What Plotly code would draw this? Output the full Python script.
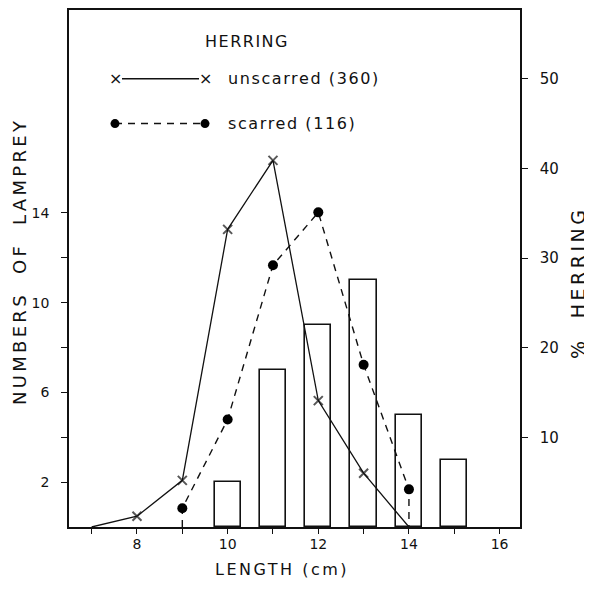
import plotly.graph_objects as go

# ---- data ----
bar_lengths = [10, 11, 12, 13, 14, 15]
lamprey_counts = [2, 7, 9, 11, 5, 3]

unscarred_lengths = [7, 8, 9, 10, 11, 12, 13, 14]
unscarred_pct = [0, 1.2, 5.2, 33.2, 40.9, 14.1, 6.0, 0]
unscarred_marker = [0, 9, 9, 9, 9, 9, 9, 0]

scarred_lengths = [9, 9, 10, 11, 12, 13, 14, 14]
scarred_pct = [0, 2.1, 12.0, 29.2, 35.1, 18.1, 4.2, 0]
scarred_marker = [0, 10, 10, 10, 10, 10, 10, 0]

x_tickvals = list(range(7, 17))
x_ticktext = [str(v) if v % 2 == 0 else "" for v in x_tickvals]
left_tickvals = [2, 4, 6, 8, 10, 12, 14]
left_ticktext = ["2", "", "6", "", "10", "", "14"]
right_tickvals = [10, 20, 30, 40, 50]

FONT = "DejaVu Sans"
INK = "#111111"

# page body adds an 8px offset; work in screen pixels and shift
OFF = 8
FIG_W, FIG_H = 592 - OFF, 590 - OFF

fig = go.Figure()

fig.add_trace(go.Bar(
    x=bar_lengths, y=lamprey_counts, width=0.58,
    marker=dict(color="white", line=dict(color=INK, width=1.6)),
    yaxis="y", showlegend=False,
))

fig.add_trace(go.Scatter(
    x=unscarred_lengths, y=unscarred_pct, yaxis="y2", mode="lines+markers",
    line=dict(color=INK, width=1.3),
    marker=dict(symbol="x-thin", size=unscarred_marker, color=INK,
                line=dict(color=INK, width=2)),
    showlegend=False,
))

fig.add_trace(go.Scatter(
    x=scarred_lengths, y=scarred_pct, yaxis="y2", mode="lines+markers",
    line=dict(color=INK, width=1.4, dash="7px,6px"),
    marker=dict(symbol="circle", size=scarred_marker, color="black",
                opacity=1, line=dict(width=0)),
    showlegend=False,
))

L, R, T, B = 69, 520, 8, 527   # plot box in screen pixels
W = R - L
H = B - T


def px(x):
    return (x - L) / W


def py(y):
    return (B - y) / H


shapes = []
annotations = []

# legend drawn inside the plot
annotations.append(dict(
    x=px(203), y=py(40), xref="paper", yref="paper", xanchor="left",
    yanchor="middle", showarrow=False,
    text='<span style="letter-spacing:1.5px">HERRING</span>',
    font=dict(family=FONT, size=16, color=INK)))

# unscarred sample
shapes.append(dict(type="line", xref="paper", yref="paper",
                   x0=px(122), x1=px(199), y0=py(77), y1=py(77),
                   line=dict(color=INK, width=1.3)))
for xx in (115, 205):
    annotations.append(dict(
        x=px(xx), y=py(77), xref="paper", yref="paper", showarrow=False,
        text="×", font=dict(family=FONT, size=16, color=INK),
        xanchor="center", yanchor="middle"))
annotations.append(dict(
    x=px(226), y=py(77), xref="paper", yref="paper", xanchor="left",
    yanchor="middle", showarrow=False,
    text='<span style="letter-spacing:1.6px">unscarred (360)</span>',
    font=dict(family=FONT, size=16, color=INK)))

# scarred sample
shapes.append(dict(type="line", xref="paper", yref="paper",
                   x0=px(115), x1=px(205), y0=py(122), y1=py(122),
                   line=dict(color=INK, width=1.4, dash="7px,6px")))
for xx in (115, 205):
    shapes.append(dict(type="circle", xref="paper", yref="paper",
                       x0=px(xx - 4.5), x1=px(xx + 4.5),
                       y0=py(122 + 4.5), y1=py(122 - 4.5),
                       fillcolor="black", line=dict(color="black", width=0)))
annotations.append(dict(
    x=px(226), y=py(122), xref="paper", yref="paper", xanchor="left",
    yanchor="middle", showarrow=False,
    text='<span style="letter-spacing:1.6px">scarred (116)</span>',
    font=dict(family=FONT, size=16, color=INK)))

# axis titles
annotations.append(dict(
    x=px(19), y=py(261), xref="paper", yref="paper", showarrow=False,
    textangle=-90, xanchor="center", yanchor="middle",
    text='<span style="letter-spacing:3.3px">NUMBERS  OF  LAMPREY</span>',
    font=dict(family=FONT, size=18, color=INK)))
annotations.append(dict(
    x=px(578), y=py(282), xref="paper", yref="paper", showarrow=False,
    textangle=-90, xanchor="center", yanchor="middle",
    text='<span style="letter-spacing:3.5px">%  HERRING</span>',
    font=dict(family=FONT, size=19, color=INK)))
annotations.append(dict(
    x=px(282), y=py(570), xref="paper", yref="paper", showarrow=False,
    xanchor="center", yanchor="middle",
    text='<span style="letter-spacing:2.5px">LENGTH (cm)</span>',
    font=dict(family=FONT, size=16, color=INK)))

fig.update_layout(
    width=FIG_W, height=FIG_H,
    margin=dict(l=L - OFF, r=FIG_W - (R - OFF), t=T - OFF,
                b=FIG_H - (B - OFF), pad=0),
    paper_bgcolor="white", plot_bgcolor="white",
    font=dict(family=FONT, color=INK, size=14),
    bargap=0,
    shapes=shapes, annotations=annotations,
    xaxis=dict(range=[6.5, 16.45], tickvals=x_tickvals, ticktext=x_ticktext,
               ticks="outside", ticklen=5, tickwidth=1, tickcolor=INK,
               showline=True, linecolor=INK, linewidth=1.6, mirror=True,
               showgrid=False, zeroline=False,
               tickfont=dict(size=14, family=FONT), ticklabelstandoff=-2),
    yaxis=dict(range=[0, 23.05], tickvals=left_tickvals, ticktext=left_ticktext,
               ticks="outside", ticklen=6, tickwidth=1, tickcolor=INK,
               showline=True, linecolor=INK, linewidth=1.6,
               showgrid=False, zeroline=False,
               tickfont=dict(size=14, family=FONT), ticklabelstandoff=9),
    yaxis2=dict(range=[0, 57.67], overlaying="y", side="right",
                tickvals=right_tickvals,
                ticks="outside", ticklen=6, tickwidth=1, tickcolor=INK,
                showline=True, linecolor=INK, linewidth=1.6,
                showgrid=False, zeroline=False,
                tickfont=dict(size=15, family=FONT), ticklabelstandoff=9),
)

fig.write_html("out.html")
